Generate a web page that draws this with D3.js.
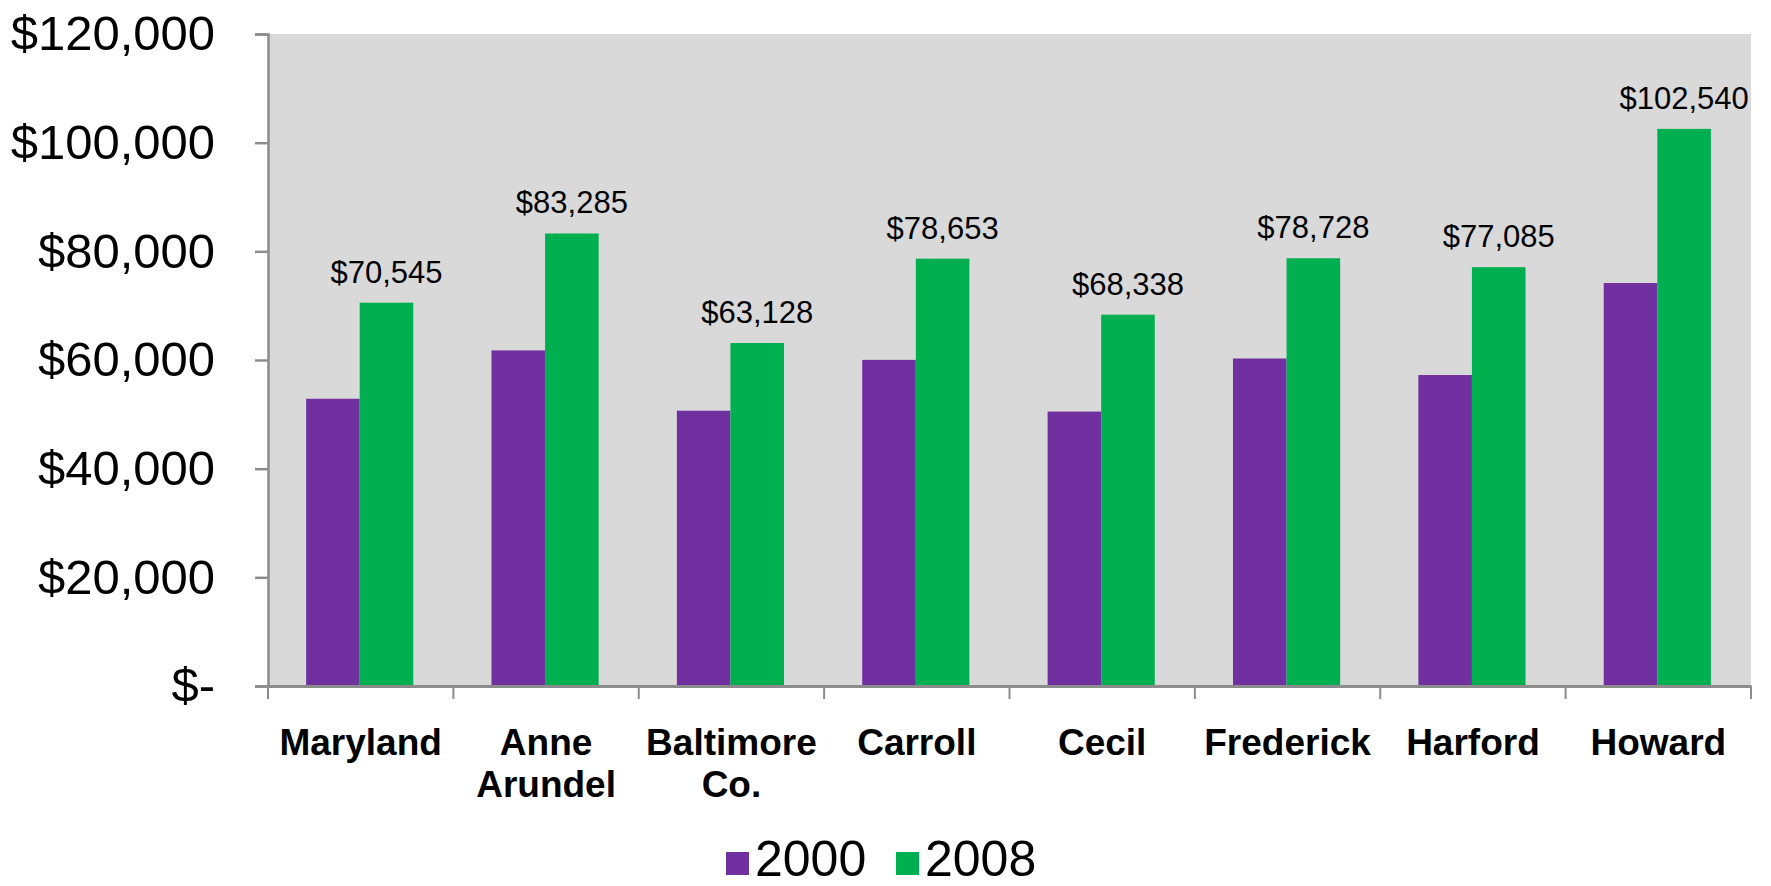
<!DOCTYPE html>
<html>
<head>
<meta charset="utf-8">
<script src="https://cdn.jsdelivr.net/npm/d3@7"></script>
<style>
  html, body { margin: 0; padding: 0; background: #ffffff; }
  svg { display: block; font-family: "Liberation Sans", Arial, sans-serif; }
</style>
</head>
<body>
<div id="chart"></div>
<script>
// --- Data ---
const categories = ['Maryland', 'Anne Arundel', 'Baltimore Co.', 'Carroll', 'Cecil', 'Frederick', 'Harford', 'Howard'];
const categoryLines = [['Maryland'], ['Anne', 'Arundel'], ['Baltimore', 'Co.'], ['Carroll'], ['Cecil'], ['Frederick'], ['Harford'], ['Howard']];
const seriesNames = ['2000', '2008'];
const values2000 = [52868, 61768, 50667, 60021, 50510, 60276, 57234, 74167];
const values2008 = [70545, 83285, 63128, 78653, 68338, 78728, 77085, 102540];
const yTicks = [0, 20000, 40000, 60000, 80000, 100000, 120000];

// --- Layout ---
const WIDTH = 1771, HEIGHT = 886;
const margin = { top: 34, right: 20, bottom: HEIGHT - 686, left: 268 };
const colors = { '2000': '#7030a0', '2008': '#00b050' };
const AXIS_COLOR = '#8c8c8c';

const svg = d3.select('#chart').append('svg')
    .attr('width', WIDTH)
    .attr('height', HEIGHT);

const innerW = WIDTH - margin.left - margin.right;
const innerH = HEIGHT - margin.top - margin.bottom;

const x0 = d3.scaleBand().domain(categories).range([0, innerW]).padding(0);
const x1 = d3.scaleBand().domain(seriesNames).range([0, x0.bandwidth()])
    .paddingInner(0).paddingOuter(0.73);
const y = d3.scaleLinear().domain([0, 120000]).range([innerH, 0]);

const g = svg.append('g').attr('transform', `translate(${margin.left},${margin.top})`);

// plot background
g.append('rect')
    .attr('width', innerW)
    .attr('height', innerH)
    .attr('fill', '#d9d9d9');

// bars
const rows = categories.map((c, i) => ({ cat: c, lines: categoryLines[i], vals: { '2000': values2000[i], '2008': values2008[i] } }));

const groups = g.selectAll('.cat')
    .data(rows)
    .join('g')
    .attr('class', 'cat')
    .attr('transform', d => `translate(${x0(d.cat) - 1},0)`);

groups.selectAll('rect')
    .data(d => seriesNames.map(s => ({ s, v: d.vals[s] })))
    .join('rect')
    .attr('x', d => x1(d.s))
    .attr('y', d => y(d.v))
    .attr('width', x1.bandwidth())
    .attr('height', d => innerH - y(d.v))
    .attr('fill', d => colors[d.s]);

// value labels on 2008 bars
const fmt = d3.format(',');
groups.append('text')
    .attr('x', x1('2008') + x1.bandwidth() / 2)
    .attr('y', d => y(d.vals['2008']) - 20)
    .attr('text-anchor', 'middle')
    .attr('font-size', 31)
    .attr('fill', '#000')
    .text(d => '$' + fmt(d.vals['2008']));

// y axis
const yAxis = d3.axisLeft(y)
    .tickValues(yTicks)
    .tickSize(13)
    .tickPadding(40)
    .tickFormat(d => d === 0 ? '$-' : '$' + fmt(d));

const yg = g.append('g').call(yAxis);
yg.select('.domain').attr('stroke', AXIS_COLOR).attr('stroke-width', 2.5);
yg.selectAll('.tick line').attr('stroke', AXIS_COLOR).attr('stroke-width', 2.5);
yg.selectAll('.tick text')
    .attr('font-size', 49)
    .attr('font-family', '"Liberation Sans", Arial, sans-serif')
    .attr('fill', '#000');

// x axis
const xAxis = d3.axisBottom(x0).tickSize(0).tickFormat('');
const xg = g.append('g').attr('transform', `translate(0,${innerH})`).call(xAxis);
xg.select('.domain').attr('stroke', AXIS_COLOR).attr('stroke-width', 3);

// tick marks at category boundaries
const boundaries = categories.map(c => x0(c)).concat([innerW]);
xg.selectAll('.bound')
    .data(boundaries)
    .join('line')
    .attr('class', 'bound')
    .attr('x1', d => d).attr('x2', d => d)
    .attr('y1', 0).attr('y2', 13)
    .attr('stroke', AXIS_COLOR)
    .attr('stroke-width', 2);

// category labels
const catLabels = xg.selectAll('.catlabel')
    .data(rows)
    .join('text')
    .attr('class', 'catlabel')
    .attr('x', d => x0(d.cat) + x0.bandwidth() / 2)
    .attr('y', 69)
    .attr('text-anchor', 'middle')
    .attr('font-size', 37)
    .attr('font-weight', 'bold')
    .attr('fill', '#000');

catLabels.selectAll('tspan')
    .data(d => d.lines)
    .join('tspan')
    .attr('x', function () { return d3.select(this.parentNode).attr('x'); })
    .attr('dy', (d, i) => i === 0 ? 0 : 42)
    .text(d => d);

// legend (sits right at the bottom edge, as in the original)
const legend = svg.append('g').attr('transform', 'translate(726,0)');
const legendItems = legend.selectAll('.item')
    .data(seriesNames)
    .join('g')
    .attr('class', 'item')
    .attr('transform', (d, i) => `translate(${i * 170},0)`);

legendItems.append('rect')
    .attr('x', 0)
    .attr('y', 852)
    .attr('width', 23)
    .attr('height', 23)
    .attr('fill', d => colors[d]);

legendItems.append('text')
    .attr('x', 29)
    .attr('y', 876)
    .attr('font-size', 50)
    .attr('fill', '#000')
    .text(d => d);
</script>
</body>
</html>
